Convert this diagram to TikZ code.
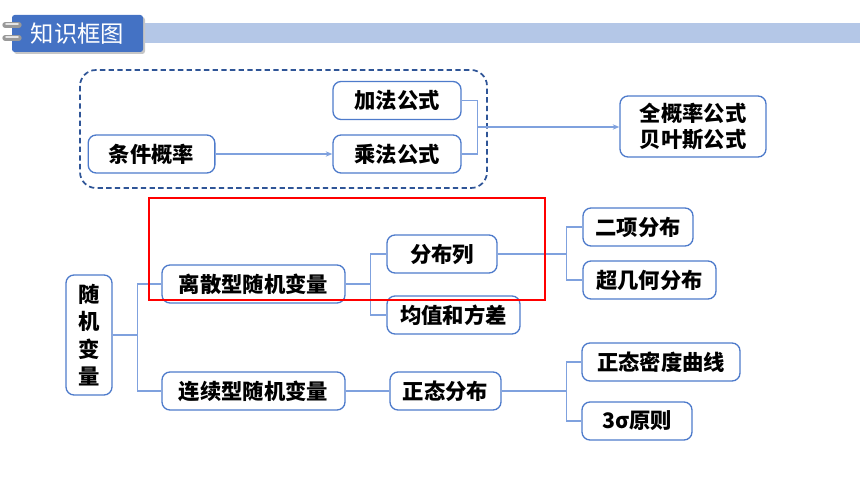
\documentclass[tikz,border=0pt]{standalone}
\usepackage{fontspec}
\setmainfont{Noto Sans CJK SC}
\usetikzlibrary{arrows.meta}
\definecolor{boxblue}{HTML}{4E7BCB}
\definecolor{linkblue}{HTML}{7FA1DE}
\definecolor{frameblue}{HTML}{2F5597}
\definecolor{tabblue}{HTML}{4472C4}
\definecolor{barblue}{HTML}{B4C7E7}
\tikzset{
  term/.style={draw=boxblue, line width=1pt, rounded corners=6pt, fill=white,
    minimum height=28.5pt, inner sep=2pt, font=\fontsize{16}{19}\selectfont\bfseries},
  link/.style={draw=linkblue, line width=0.9pt},
  titletab/.style={fill=tabblue, rounded corners=2pt, text=white,
    minimum width=98.25pt, minimum height=27.75pt, font=\fontsize{17.5}{20}\selectfont},
}
\begin{document}
\begin{tikzpicture}[x=0.75pt, y=-0.75pt]
    \useasboundingbox (0,0) rectangle (860,484);
    % title bar
    \fill[barblue] (143,23) rectangle (860,43);
    \fill[gray!45, rounded corners=2pt] (14,17) rectangle (145,54);
    \node[titletab] (title) at (77.5,33.5) {知识框图};
    \foreach \y in {25,38} {
        \draw[gray!80, line width=4pt, line cap=round] (5,\y) -- (19,\y);
        \draw[gray!20, line width=1.2pt, line cap=round] (6,\y-1) -- (18,\y-1);
    }
    % conditional probability group
    \draw[frameblue, line width=1.3pt, dash pattern=on 4pt off 2.5pt, rounded corners=12pt]
        (80,70) rectangle (487,188);
    \node[term, minimum width=95pt] (tiaojian) at (151.5,154) {条件概率};
    \node[term, minimum width=96pt] (jiafa) at (397,100.5) {加法公式};
    \node[term, minimum width=96pt] (chengfa) at (397,154) {乘法公式};
    \node[term, minimum width=109.5pt, minimum height=45.75pt, align=center] (quan) at (693,126.5) {全概率公式\\贝叶斯公式};
    \draw[link, -{Stealth[length=5pt, width=4pt]}] (tiaojian) -- (chengfa);
    \draw[link] (jiafa.east) -- ++(16,0) |- (chengfa.east);
    \coordinate (fork) at (477,127);
    \draw[link, -{Stealth[length=5pt, width=4pt]}] (fork) -- (fork -| quan.west);
    % random variables
    \node[term, minimum width=34.5pt, minimum height=90pt, align=center,
        font=\fontsize{16}{20.5}\selectfont\bfseries] (suiji) at (89,335) {随\\机\\变\\量};
    \node[term, minimum width=137.25pt] (lisan) at (253.5,284) {离散型随机变量};
    \node[term, minimum width=137.25pt] (lianxu) at (253.5,391) {连续型随机变量};
    \node[term, minimum width=82.5pt] (fenbulie) at (442,254) {分布列};
    \node[term, minimum width=99.75pt] (junzhi) at (453.5,315) {均值和方差};
    \node[term, minimum width=83.25pt] (zhengtai) at (445.5,391) {正态分布};
    \node[term, minimum width=82.5pt] (erxiang) at (638,227) {二项分布};
    \node[term, minimum width=99.75pt] (chaojihe) at (649.5,280) {超几何分布};
    \node[term, minimum width=118.5pt] (midu) at (661,362) {正态密度曲线};
    \node[term, minimum width=82.5pt] (sansigma) at (637,421) {3σ原则};
    \draw[link] (suiji.east) -- ++(25,0) |- (lisan.west);
    \draw[link] (suiji.east) -- ++(25,0) |- (lianxu.west);
    \draw[link] (lisan.east) -- ++(25,0) |- (fenbulie.west);
    \draw[link] (lisan.east) -- ++(25,0) |- (junzhi.west);
    \draw[link] (lianxu) -- (zhengtai);
    \draw[link] (fenbulie.east) -- ++(69,0) |- (erxiang.west);
    \draw[link] (fenbulie.east) -- ++(69,0) |- (chaojihe.west);
    \draw[link] (zhengtai.east) -- ++(65,0) |- (midu.west);
    \draw[link] (zhengtai.east) -- ++(65,0) |- (sansigma.west);
    % highlight
    \draw[red, line width=1.3pt] (149,198) rectangle (545,300);
\end{tikzpicture}
\end{document}
